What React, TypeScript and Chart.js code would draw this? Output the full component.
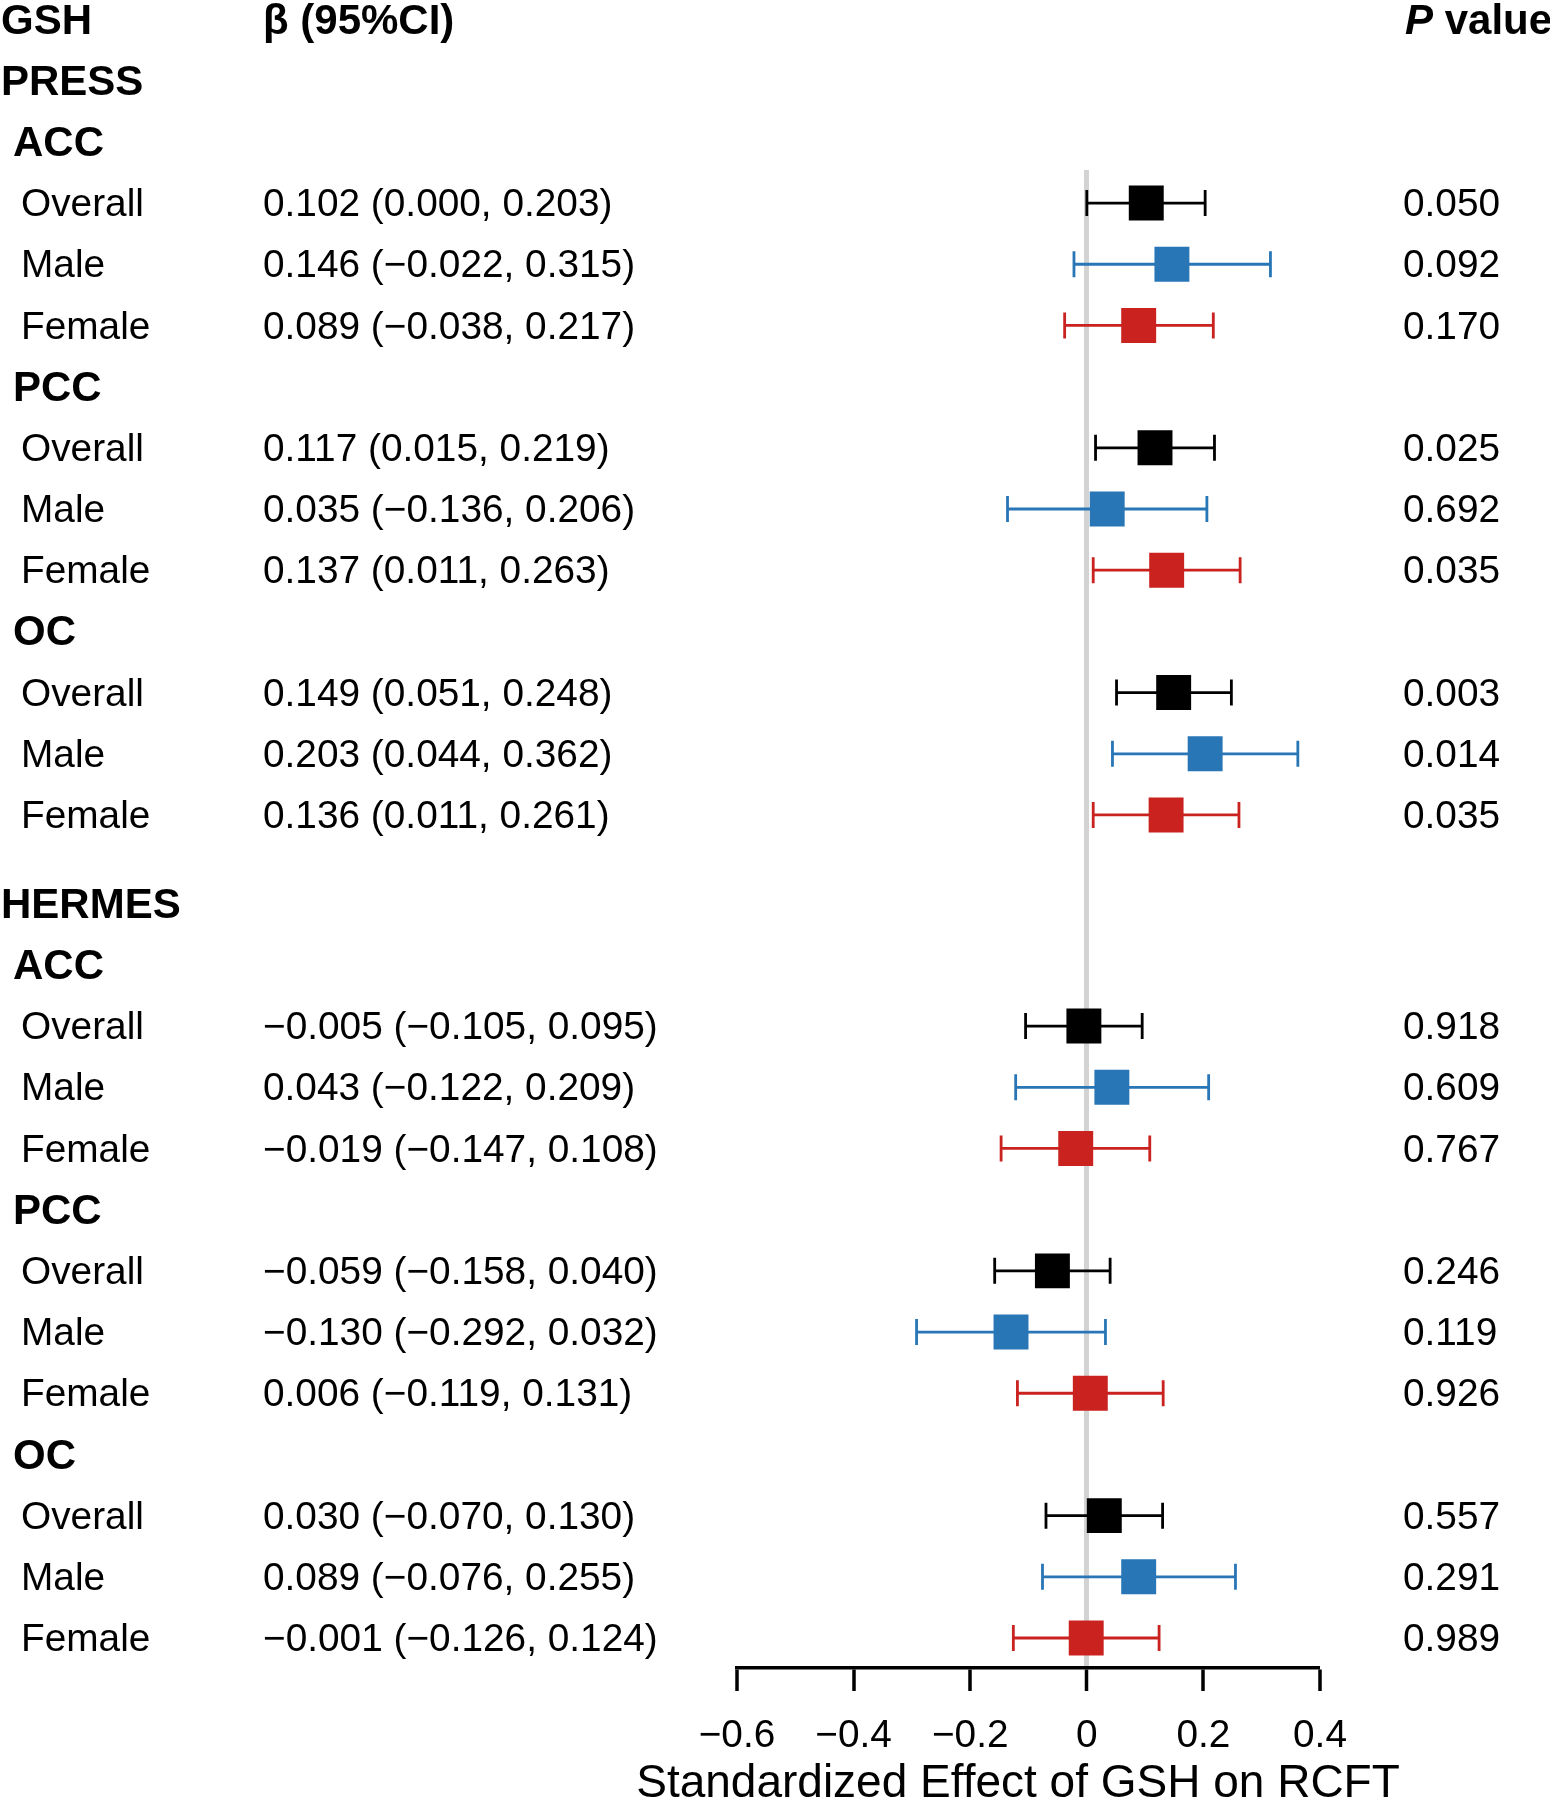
import React, { useEffect, useRef } from 'react';
import { Chart, registerables } from 'chart.js';

Chart.register(...registerables);

// ---------------- data ----------------
const studyNames = ['PRESS', 'HERMES'];
const regionNames = ['ACC', 'PCC', 'OC'];
const groupNames = ['Overall', 'Male', 'Female'];

const betaPRESS = [0.102, 0.146, 0.089, 0.117, 0.035, 0.137, 0.149, 0.203, 0.136];
const lowerPRESS = [0.0, -0.022, -0.038, 0.015, -0.136, 0.011, 0.051, 0.044, 0.011];
const upperPRESS = [0.203, 0.315, 0.217, 0.219, 0.206, 0.263, 0.248, 0.362, 0.261];
const pPRESS = ['0.050', '0.092', '0.170', '0.025', '0.692', '0.035', '0.003', '0.014', '0.035'];

const betaHERMES = [-0.005, 0.043, -0.019, -0.059, -0.13, 0.006, 0.03, 0.089, -0.001];
const lowerHERMES = [-0.105, -0.122, -0.147, -0.158, -0.292, -0.119, -0.07, -0.076, -0.126];
const upperHERMES = [0.095, 0.209, 0.108, 0.04, 0.032, 0.131, 0.13, 0.255, 0.124];
const pHERMES = ['0.918', '0.609', '0.767', '0.246', '0.119', '0.926', '0.557', '0.291', '0.989'];

const xTicks = [-0.6, -0.4, -0.2, 0, 0.2, 0.4];
const xTitle = 'Standardized Effect of GSH on RCFT';
const headerLabel = 'GSH';
const headerBeta = 'β (95%CI)';
const headerPItalic = 'P';
const headerPRest = ' value';

// ---------------- layout / style ----------------
const FONT = "'Liberation Sans', Arial, Helvetica, sans-serif";
const W = 1550;
const H = 1800;
const STUDY_ROW_START = [1, 14.45]; // row index of each study heading
const Y_TOP = 2.46;
const Y_BOTTOM = 26.94;
const groupColors = ['#000000', '#2976b6', '#c9221f'];
const COL_STUDY_X = 1;
const COL_REGION_X = 13;
const COL_GROUP_X = 21;
const COL_BETA_X = 263;
const COL_P_X = 1403;
const BOLD_SIZE = 42;
const REG_SIZE = 38.8;
const TEXT_DY = 2.5;
const TITLE_X = 1018;
const TITLE_Y = 1784;
const TITLE_SIZE = 46;

const betaAll = [betaPRESS, betaHERMES];
const lowerAll = [lowerPRESS, lowerHERMES];
const upperAll = [upperPRESS, upperHERMES];
const pAll = [pPRESS, pHERMES];

type Row = { pos: number; beta: number; lo: number; hi: number; p: string; group: number; label: string };
type Head = { pos: number; text: string; level: number };

const rows: Row[] = [];
const heads: Head[] = [];
studyNames.forEach((s, si) => {
  const start = STUDY_ROW_START[si];
  heads.push({ pos: start, text: s, level: 0 });
  regionNames.forEach((r, ri) => {
    const rp = start + 1 + ri * 4;
    heads.push({ pos: rp, text: r, level: 1 });
    groupNames.forEach((g, gi) => {
      const k = ri * 3 + gi;
      rows.push({
        pos: rp + 1 + gi,
        beta: betaAll[si][k],
        lo: lowerAll[si][k],
        hi: upperAll[si][k],
        p: pAll[si][k],
        group: gi,
        label: g,
      });
    });
  });
});

const fmt = (v: number) => v.toFixed(3).replace('-', '\u2212');
const fmtTick = (v: number) => (v === 0 ? '0' : v.toFixed(1).replace('-', '\u2212'));

const errorBarPlugin = {
  id: 'errorBars',
  beforeDatasetsDraw(chart: any) {
    const { ctx, scales } = chart;
    const x = scales.x;
    const y = scales.y;
    ctx.save();
    ctx.lineWidth = 2.8;
    ctx.lineCap = 'butt';
    const cap = 13;
    rows.forEach((r) => {
      const yp = y.getPixelForValue(r.pos);
      const xl = x.getPixelForValue(r.lo);
      const xh = x.getPixelForValue(r.hi);
      ctx.strokeStyle = groupColors[r.group];
      ctx.beginPath();
      ctx.moveTo(xl, yp);
      ctx.lineTo(xh, yp);
      ctx.moveTo(xl, yp - cap);
      ctx.lineTo(xl, yp + cap);
      ctx.moveTo(xh, yp - cap);
      ctx.lineTo(xh, yp + cap);
      ctx.stroke();
    });
    ctx.restore();
  },
};

const textPlugin = {
  id: 'forestText',
  afterDraw(chart: any) {
    const { ctx, scales } = chart;
    const y = scales.y;
    const bold = `bold ${BOLD_SIZE}px ${FONT}`;
    const reg = `${REG_SIZE}px ${FONT}`;
    ctx.save();
    ctx.fillStyle = '#000';
    ctx.textBaseline = 'middle';
    ctx.textAlign = 'left';
    const yh = y.getPixelForValue(0) + TEXT_DY;
    ctx.font = bold;
    ctx.fillText(headerLabel, COL_STUDY_X, yh);
    ctx.fillText(headerBeta, COL_BETA_X, yh);
    ctx.font = `italic bold ${BOLD_SIZE}px ${FONT}`;
    ctx.fillText(headerPItalic, COL_P_X + 2, yh);
    const pw = ctx.measureText(headerPItalic).width;
    ctx.font = bold;
    ctx.fillText(headerPRest, COL_P_X + 2 + pw, yh);
    heads.forEach((h) => {
      ctx.font = bold;
      ctx.fillText(h.text, h.level === 0 ? COL_STUDY_X : COL_REGION_X, y.getPixelForValue(h.pos) + TEXT_DY);
    });
    ctx.font = reg;
    rows.forEach((r) => {
      const yp = y.getPixelForValue(r.pos) + TEXT_DY;
      ctx.fillText(r.label, COL_GROUP_X, yp);
      ctx.fillText(`${fmt(r.beta)} (${fmt(r.lo)}, ${fmt(r.hi)})`, COL_BETA_X, yp);
      ctx.fillText(r.p, COL_P_X, yp);
    });
    // axis title (drawn without width compression)
    ctx.font = `${TITLE_SIZE}px ${FONT}`;
    ctx.textAlign = 'center';
    ctx.fillText(xTitle, TITLE_X, TITLE_Y);
    ctx.restore();
  },
};

export default function App() {
  const ref = useRef<HTMLCanvasElement | null>(null);
  useEffect(() => {
    if (!ref.current) return;
    const datasets = groupNames.map((g, gi) => ({
      label: g,
      data: rows.filter((r) => r.group === gi).map((r) => ({ x: r.beta, y: r.pos })),
      pointStyle: 'rect',
      pointRadius: 24.7,
      pointHoverRadius: 24.7,
      backgroundColor: groupColors[gi],
      borderColor: groupColors[gi],
      borderWidth: 0,
    }));
    const chart = new Chart(ref.current, {
      type: 'scatter',
      data: { datasets } as any,
      plugins: [errorBarPlugin, textPlugin],
      options: {
        animation: false,
        responsive: false,
        maintainAspectRatio: false,
        devicePixelRatio: 1,
        events: [],
        layout: { padding: { left: 737, right: 230, top: 170, bottom: 0 } },
        plugins: {
          legend: { display: false },
          tooltip: { enabled: false },
          title: { display: false },
        },
        scales: {
          x: {
            type: 'linear',
            position: 'bottom',
            min: -0.6,
            max: 0.4,
            afterBuildTicks: (s: any) => {
              s.ticks = xTicks.map((v) => ({ value: v }));
            },
            afterFit: (s: any) => {
              s.height = 132;
            },
            ticks: {
              callback: (v: any) => fmtTick(Number(v)),
              font: { family: FONT, size: REG_SIZE },
              color: '#000',
              padding: 22,
              maxRotation: 0,
              autoSkip: false,
            },
            grid: {
              drawOnChartArea: true,
              color: (c: any) => (c.tick && c.tick.value === 0 ? '#d3d3d3' : 'rgba(0,0,0,0)'),
              lineWidth: (c: any) => (c.tick && c.tick.value === 0 ? 5 : 0),
              drawTicks: true,
              tickLength: 23,
              tickColor: '#000',
              tickWidth: 3.5,
            },
            border: { display: true, color: '#000', width: 3.5 },
            title: { display: false },
          },
          y: {
            type: 'linear',
            display: false,
            reverse: true,
            min: Y_TOP,
            max: Y_BOTTOM,
          },
        },
      } as any,
    });
    return () => chart.destroy();
  }, []);
  return (
    <div style={{ position: 'absolute', left: 0, top: 0, width: W, height: H, background: '#fff' }}>
      <canvas ref={ref} width={W} height={H} style={{ display: 'block' }} />
    </div>
  );
}
